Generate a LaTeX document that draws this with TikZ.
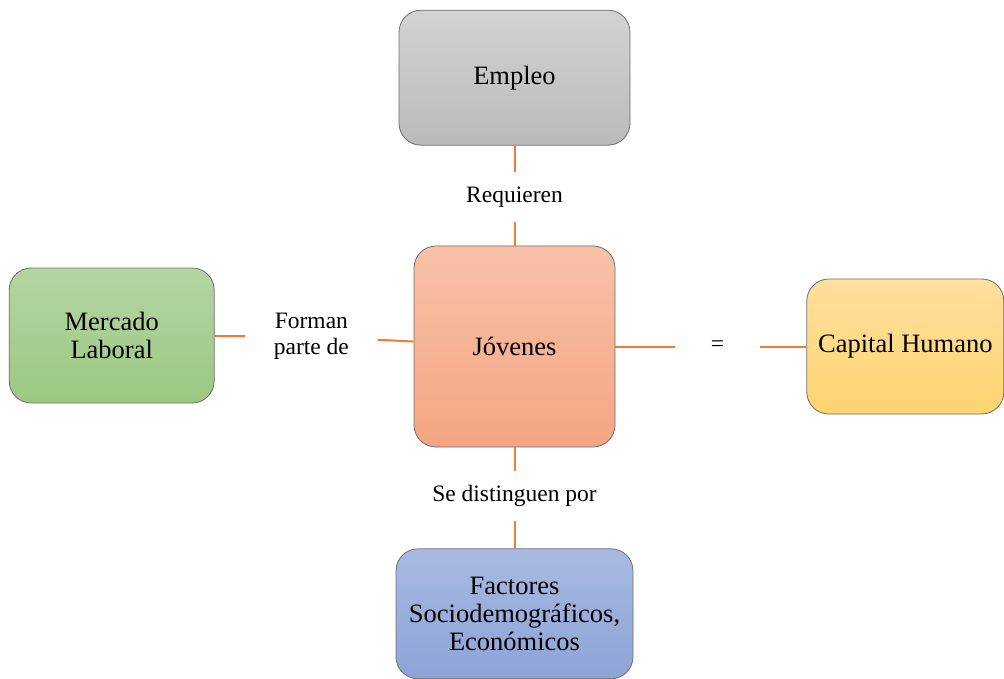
\documentclass[tikz,border=0pt]{standalone}
\usepackage{fontspec}
\setmainfont{Liberation Serif}
\usetikzlibrary{positioning}

\definecolor{linkorange}{RGB}{237,125,49}
\definecolor{boxborder}{RGB}{110,110,110}

\begin{document}
\begin{tikzpicture}
    [x=1pt, y=-1pt,
    conceptnode/.style={rectangle, rounded corners=22pt, draw=boxborder, line width=0.8pt,
        align=center, inner sep=0pt, font=\fontsize{26.5}{28}\selectfont},
    labelnode/.style={rectangle, inner sep=0pt, align=center, font=\fontsize{23.5}{26}\selectfont},
    link/.style={draw=linkorange, line width=2pt},]

    \useasboundingbox (0,0) rectangle (1004,679);

    %Nodes
    \node[conceptnode, minimum width=201pt, minimum height=201pt,
        top color={rgb,255:red,248;green,193;blue,168}, bottom color={rgb,255:red,244;green,165;blue,130}]
        (jovenes) at (514.5,346.5) {Jóvenes};
    \node[conceptnode, minimum width=231pt, minimum height=135pt,
        top color={rgb,255:red,211;green,211;blue,211}, bottom color={rgb,255:red,186;green,186;blue,186}]
        (empleo)[above=100pt of jovenes] {Empleo};
    \node[conceptnode, minimum width=205pt, minimum height=135pt,
        top color={rgb,255:red,180;green,213;blue,164}, bottom color={rgb,255:red,156;green,200;blue,130}]
        (mercado)[left=199pt of jovenes, yshift=11pt] {Mercado\\Laboral};
    \node[conceptnode, minimum width=197pt, minimum height=135pt,
        top color={rgb,255:red,255;green,223;blue,158}, bottom color={rgb,255:red,255;green,212;blue,112}]
        (capital)[right=191pt of jovenes] {Capital Humano};
    \node[conceptnode, minimum width=237pt, minimum height=130pt,
        top color={rgb,255:red,169;green,185;blue,226}, bottom color={rgb,255:red,140;green,164;blue,214}]
        (factores)[below=101pt of jovenes] {Factores\\Sociodemográficos,\\Económicos};

    %Labels
    \node[labelnode, minimum height=50pt](requieren)[below=26pt of empleo]{Requieren};
    \node[labelnode, minimum height=49pt](distinguen)[below=24pt of jovenes]{Se distinguen por};
    \node[labelnode, minimum width=84pt](igual)[right=60pt of jovenes]{=};
    \node[labelnode, minimum width=132pt](forman)[left=36pt of jovenes, yshift=10pt]{Forman\\parte de};

    %Lines
    \draw[link](empleo)--(requieren);
    \draw[link](requieren)--(jovenes);
    \draw[link](jovenes)--(distinguen);
    \draw[link](distinguen)--(factores);
    \draw[link](jovenes)--(igual);
    \draw[link](igual)--(capital);
    \draw[link](mercado)--(forman);
    \draw[link](forman)--(jovenes);

\end{tikzpicture}
\end{document}
